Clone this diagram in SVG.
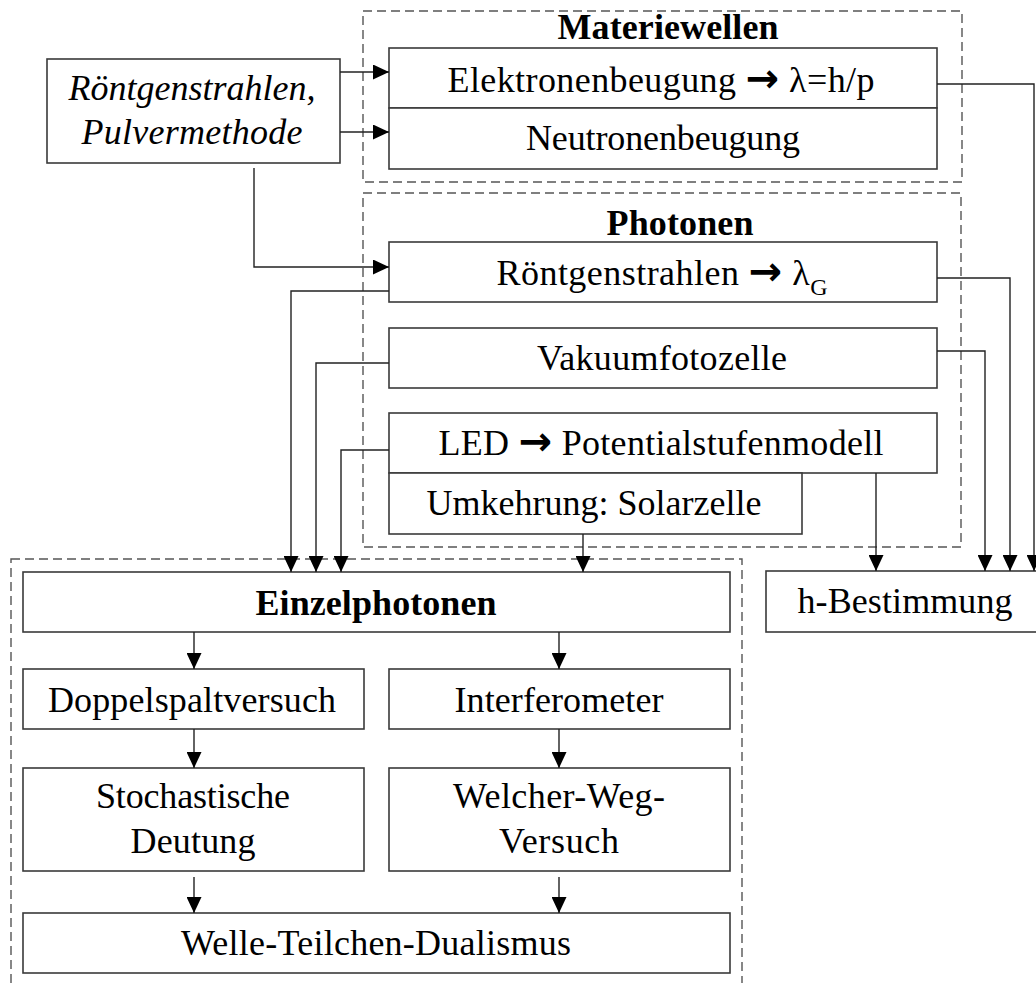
<svg xmlns="http://www.w3.org/2000/svg" width="1036" height="983" viewBox="0 0 1036 983">
<defs>
<style>
.box{fill:#fff;stroke:#3a3a3a;stroke-width:1.6}
.grp{fill:none;stroke:#555;stroke-width:1.4;stroke-dasharray:9 5}
.t{font-family:"Liberation Serif","Times New Roman",serif;font-size:36px;fill:#000;text-anchor:middle}
.b{font-weight:bold}
.i{font-style:italic}
.ar{font-family:"DejaVu Sans",sans-serif;font-weight:bold;font-size:40px}
.c{fill:none;stroke:#222;stroke-width:1.4}
</style>
<marker id="ah" markerUnits="userSpaceOnUse" markerWidth="16" markerHeight="15" refX="16" refY="7.5" orient="auto">
<path d="M0,0 L16,7.5 L0,15 z" fill="#000"/>
</marker>
</defs>
<rect width="1036" height="983" fill="#fff"/>

<g id="groups">
<rect class="grp" x="363" y="11" width="599" height="171"/>
<rect class="grp" x="363" y="193" width="598" height="354"/>
<rect class="grp" x="11" y="559" width="731" height="440"/>
</g>

<g id="titles">
<text class="t b" x="668" y="39" textLength="221">Materiewellen</text>
<text class="t b" x="680" y="235" textLength="147">Photonen</text>
</g>

<g id="n-roentgen-pulver">
<rect class="box" x="47" y="59" width="293" height="104"/>
<text class="t i" x="192" y="100" textLength="247">Röntgenstrahlen,</text>
<text class="t i" x="192" y="144" textLength="221">Pulvermethode</text>
</g>
<g id="n-elektronen">
<rect class="box" x="389" y="48" width="548" height="60"/>
<text class="t" x="661" y="92" textLength="427">Elektronenbeugung <tspan class="ar">→</tspan> λ=h/p</text>
</g>
<g id="n-neutronen">
<rect class="box" x="389" y="108" width="548" height="61"/>
<text class="t" x="663" y="150" textLength="274">Neutronenbeugung</text>
</g>
<g id="n-roentgen">
<rect class="box" x="389" y="242" width="548" height="60"/>
<text class="t" x="662" y="285" textLength="331">Röntgenstrahlen <tspan class="ar">→</tspan> λ<tspan font-size="24" dy="10">G</tspan></text>
</g>
<g id="n-vakuum">
<rect class="box" x="389" y="328" width="548" height="60"/>
<text class="t" x="662" y="370" textLength="250">Vakuumfotozelle</text>
</g>
<g id="n-led">
<rect class="box" x="389" y="413" width="548" height="60"/>
<text class="t" x="661" y="455" textLength="445">LED <tspan class="ar">→</tspan> Potentialstufenmodell</text>
</g>
<g id="n-umkehrung">
<rect class="box" x="389" y="473" width="413" height="61"/>
<text class="t" x="594" y="515" textLength="335">Umkehrung: Solarzelle</text>
</g>
<g id="n-einzel">
<rect class="box" x="23" y="572" width="707" height="60"/>
<text class="t b" x="376" y="615" textLength="241">Einzelphotonen</text>
</g>
<g id="n-doppel">
<rect class="box" x="23" y="669" width="341" height="60"/>
<text class="t" x="192" y="712" textLength="288">Doppelspaltversuch</text>
</g>
<g id="n-inter">
<rect class="box" x="389" y="669" width="341" height="60"/>
<text class="t" x="559" y="712" textLength="209">Interferometer</text>
</g>
<g id="n-stoch">
<rect class="box" x="23" y="768" width="341" height="103"/>
<text class="t" x="193" y="808" textLength="194">Stochastische</text>
<text class="t" x="193" y="853" textLength="125">Deutung</text>
</g>
<g id="n-welcher">
<rect class="box" x="389" y="768" width="341" height="103"/>
<text class="t" x="559" y="808" textLength="212">Welcher-Weg-</text>
<text class="t" x="559" y="853" textLength="120">Versuch</text>
</g>
<g id="n-welle">
<rect class="box" x="23" y="913" width="707" height="60"/>
<text class="t" x="376" y="955" textLength="390">Welle-Teilchen-Dualismus</text>
</g>
<g id="n-hbest">
<rect class="box" x="766" y="571" width="280" height="61"/>
<text class="t" x="905" y="613" textLength="215">h-Bestimmung</text>
</g>

<g id="connectors">
<path class="c" d="M340,72 H389" marker-end="url(#ah)"/>
<path class="c" d="M340,132 H389" marker-end="url(#ah)"/>
<path class="c" d="M254,168 V267 H389" marker-end="url(#ah)"/>
<path class="c" d="M389,291 H291 V572" marker-end="url(#ah)"/>
<path class="c" d="M389,363 H316 V572" marker-end="url(#ah)"/>
<path class="c" d="M389,450 H341 V572" marker-end="url(#ah)"/>
<path class="c" d="M583,534 V572" marker-end="url(#ah)"/>
<path class="c" d="M937,84 H1034 V571" marker-end="url(#ah)"/>
<path class="c" d="M937,278 H1010 V571" marker-end="url(#ah)"/>
<path class="c" d="M937,351 H985 V571" marker-end="url(#ah)"/>
<path class="c" d="M876,473 V571" marker-end="url(#ah)"/>
<path class="c" d="M194,632 V669" marker-end="url(#ah)"/>
<path class="c" d="M559,632 V669" marker-end="url(#ah)"/>
<path class="c" d="M194,729 V768" marker-end="url(#ah)"/>
<path class="c" d="M559,729 V768" marker-end="url(#ah)"/>
<path class="c" d="M194,877 V913" marker-end="url(#ah)"/>
<path class="c" d="M559,877 V913" marker-end="url(#ah)"/>
</g>
</svg>
